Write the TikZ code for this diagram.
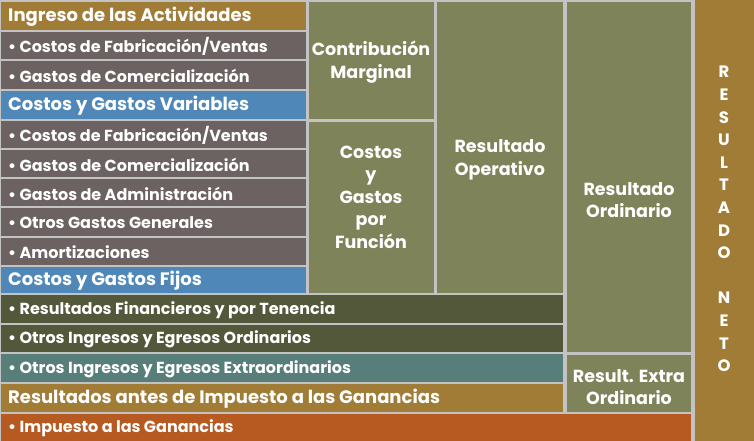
\documentclass[tikz,border=0pt]{standalone}
\usepackage{fontspec}
\setmainfont{Poppins}
\definecolor{gapgray}{HTML}{C3C3C3}
\definecolor{goldc}{HTML}{A07C36}
\definecolor{mauvec}{HTML}{6C6262}
\definecolor{bluec}{HTML}{4F88B8}
\definecolor{olivec}{HTML}{7F8359}
\definecolor{darkolivec}{HTML}{53583B}
\definecolor{tealc}{HTML}{577E78}
\definecolor{orangec}{HTML}{B65A22}
\newcommand\mkcell[6]{\node[cellbox, fill=#6, minimum width={(#4-#2)*1pt}, minimum height={(#5-#3)*1pt}] (#1) at ({(#2+#4)/2},{(#3+#5)/2}) {};}
\begin{document}
\begin{tikzpicture}[x=1pt,y=-1pt,
  cellbox/.style={rectangle, inner sep=0pt, outer sep=0pt, draw=none},
  lbl/.style={text=white, font=\bfseries\fontsize{16}{18}\selectfont, inner sep=0pt, anchor=west},
  hlbl/.style={text=white, font=\bfseries\fontsize{18}{20}\selectfont, inner sep=0pt, anchor=west},
  clbl/.style={text=white, font=\bfseries\fontsize{17.5}{22.5}\selectfont, align=center, inner sep=0pt},
  vlbl/.style={text=white, font=\bfseries\fontsize{16.5}{22.6}\selectfont, align=center, inner sep=0pt}]
\fill[gapgray] (0,0) rectangle (754,441);
\useasboundingbox (0,0) rectangle (754,441);
\mkcell{r1}{1}{2}{306}{30}{goldc}
\mkcell{r2}{1}{32}{306}{59}{mauvec}
\mkcell{r3}{1}{61}{306}{89}{mauvec}
\mkcell{r4}{1}{91}{306}{119}{bluec}
\mkcell{r5}{1}{121}{306}{148}{mauvec}
\mkcell{r6}{1}{150}{306}{177}{mauvec}
\mkcell{r7}{1}{179}{306}{206}{mauvec}
\mkcell{r8}{1}{208}{306}{236}{mauvec}
\mkcell{r9}{1}{238}{306}{265}{mauvec}
\mkcell{r10}{1}{267}{306}{293}{bluec}
\mkcell{c2a}{309}{2}{434}{119}{olivec}
\mkcell{c2b}{309}{122}{434}{293}{olivec}
\mkcell{c3}{437}{2}{563}{293}{olivec}
\mkcell{c4a}{567}{2}{691}{352}{olivec}
\mkcell{c4b}{567}{355}{691}{412}{olivec}
\mkcell{r11}{1}{295}{563}{323}{darkolivec}
\mkcell{r12}{1}{325}{563}{352}{darkolivec}
\mkcell{r13}{1}{354}{563}{382}{tealc}
\mkcell{r14}{1}{384}{563}{412}{goldc}
\mkcell{r15}{1}{414}{691}{441}{orangec}
\mkcell{c5}{695}{0}{754}{441}{goldc}
% left labels
\node[hlbl] at ([xshift=7pt,yshift=-1pt]r1.west) {Ingreso de las Actividades};
\node[lbl] at ([xshift=7pt,yshift=-1pt]r2.west) {• Costos de Fabricación/Ventas};
\node[lbl] at ([xshift=7pt,yshift=-1pt]r3.west) {• Gastos de Comercialización};
\node[hlbl] at ([xshift=7pt,yshift=-1pt]r4.west) {Costos y Gastos Variables};
\node[lbl] at ([xshift=7pt,yshift=-1pt]r5.west) {• Costos de Fabricación/Ventas};
\node[lbl] at ([xshift=7pt,yshift=-1pt]r6.west) {• Gastos de Comercialización};
\node[lbl] at ([xshift=7pt,yshift=-1pt]r7.west) {• Gastos de Administración};
\node[lbl] at ([xshift=7pt,yshift=-1pt]r8.west) {• Otros Gastos Generales};
\node[lbl] at ([xshift=7pt,yshift=-1pt]r9.west) {• Amortizaciones};
\node[hlbl] at ([xshift=7pt,yshift=-1pt]r10.west) {Costos y Gastos Fijos};
\node[lbl] at ([xshift=7pt,yshift=-1pt]r11.west) {• Resultados Financieros y por Tenencia};
\node[lbl] at ([xshift=7pt,yshift=-1pt]r12.west) {• Otros Ingresos y Egresos Ordinarios};
\node[lbl] at ([xshift=7pt,yshift=-1pt]r13.west) {• Otros Ingresos y Egresos Extraordinarios};
\node[hlbl] at ([xshift=7pt,yshift=-1pt]r14.west) {Resultados antes de Impuesto a las Ganancias};
\node[lbl] at ([xshift=7pt,yshift=-1pt]r15.west) {• Impuesto a las Ganancias};
% column labels
\node[clbl] (t2a) at (371,62) {Contribución\\Marginal};
\node[clbl] (t2b) at (371,197) {Costos\\y\\Gastos\\por\\Función};
\node[clbl] (t3) at (500,160) {Resultado\\Operativo};
\node[clbl] (t4a) at (629,200) {Resultado\\Ordinario};
\node[clbl] (t4b) at (629,387) {Result. Extra\\Ordinario};
\node[vlbl] (t5) at (724,219) {R\\E\\S\\U\\L\\T\\A\\D\\O\\[22.6pt]N\\E\\T\\O};
\end{tikzpicture}
\end{document}
